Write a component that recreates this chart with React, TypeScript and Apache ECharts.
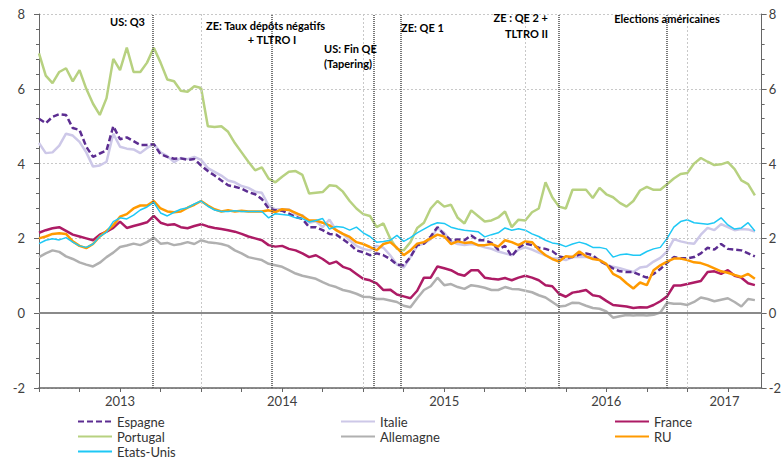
import React, { useEffect, useRef } from "react";
import * as echarts from "echarts";

// Semi-monthly observations, index 0 = Jan 2013 (half-month steps)
const portugal = [
  6.95, 6.35, 6.15, 6.45, 6.55, 6.2, 6.5, 6.0, 5.6, 5.3, 5.75, 6.8, 6.5, 7.1, 6.45, 6.45, 6.7, 7.1, 6.7, 6.25, 6.2, 5.95, 5.92, 6.07, 6.02, 5.0, 4.98,
  5.0, 4.85, 4.55, 4.3, 4.05, 3.82, 3.9, 3.6, 3.5, 3.65, 3.78, 3.8, 3.7, 3.2, 3.22, 3.24, 3.42, 3.4, 3.25, 3.0, 2.8, 2.65, 2.6, 2.3, 2.4, 2.0, 1.72,
  1.68, 1.9, 2.28, 2.42, 2.8, 3.0, 2.85, 2.9, 2.55, 2.4, 2.75, 2.6, 2.45, 2.48, 2.56, 2.72, 2.3, 2.5, 2.48, 2.7, 2.8, 3.5, 3.1, 2.85, 2.8, 3.3,
  3.3, 3.3, 3.08, 3.35, 3.18, 3.1, 2.95, 2.85, 3.0, 3.28, 3.38, 3.3, 3.3, 3.45, 3.6, 3.72, 3.75, 4.0, 4.15, 4.05, 3.96, 3.98, 4.04, 3.85, 3.55, 3.45, 3.15,
];
const espagne = [
  5.2, 5.08, 5.25, 5.32, 5.3, 4.95, 4.9, 4.45, 4.18, 4.27, 4.35, 5.0, 4.65, 4.7, 4.6, 4.5, 4.5, 4.52, 4.25, 4.18, 4.13, 4.14, 4.1, 4.12, 3.95, 3.8, 3.68,
  3.55, 3.42, 3.38, 3.33, 3.24, 3.18, 3.05, 2.8, 2.75, 2.74, 2.66, 2.57, 2.52, 2.3, 2.3, 2.22, 2.12, 2.1, 1.98, 1.85, 1.68, 1.63, 1.55, 1.6, 1.55, 1.45, 1.3,
  1.28, 1.5, 1.82, 1.86, 2.05, 2.3, 2.1, 1.95, 1.97, 1.95, 2.08, 1.95, 1.95, 1.88, 1.7, 1.8, 1.52, 1.75, 1.86, 1.82, 1.75, 1.72, 1.66, 1.52, 1.48, 1.5,
  1.57, 1.6, 1.55, 1.4, 1.3, 1.2, 1.12, 1.1, 1.1, 1.02, 0.95, 1.05, 1.18, 1.35, 1.5, 1.47, 1.47, 1.5, 1.6, 1.75, 1.7, 1.85, 1.72, 1.7, 1.68, 1.6, 1.52,
];
const italie = [
  4.55, 4.28, 4.3, 4.48, 4.8, 4.75, 4.58, 4.3, 3.92, 3.95, 4.05, 4.8, 4.45, 4.4, 4.38, 4.28, 4.42, 4.52, 4.3, 4.2, 4.04, 4.15, 4.12, 4.18, 4.1, 3.88, 3.78,
  3.68, 3.55, 3.5, 3.4, 3.35, 3.25, 3.22, 2.88, 2.78, 2.78, 2.78, 2.64, 2.62, 2.42, 2.46, 2.3, 2.5, 2.22, 2.12, 1.95, 1.8, 1.72, 1.68, 1.8, 1.75, 1.55, 1.3,
  1.22, 1.5, 1.8, 1.86, 1.98, 2.28, 2.15, 1.92, 1.85, 1.82, 1.85, 1.82, 1.76, 1.72, 1.65, 1.6, 1.55, 1.7, 1.76, 1.7, 1.62, 1.55, 1.46, 1.46, 1.42, 1.5,
  1.5, 1.5, 1.48, 1.42, 1.3, 1.24, 1.2, 1.15, 1.1, 1.22, 1.25, 1.38, 1.48, 1.65, 1.98, 1.92, 1.88, 1.86, 2.1, 2.28, 2.22, 2.38, 2.3, 2.22, 2.25, 2.24, 2.18,
];
const france = [
  2.15, 2.22, 2.27, 2.3, 2.2, 2.1, 2.05, 2.0, 1.95, 2.1, 2.18, 2.28, 2.45, 2.28, 2.33, 2.38, 2.43, 2.6, 2.42, 2.36, 2.38, 2.3, 2.27, 2.33, 2.38, 2.32, 2.28,
  2.25, 2.22, 2.18, 2.12, 2.05, 2.0, 1.95, 1.82, 1.78, 1.8, 1.72, 1.68, 1.6, 1.5, 1.55, 1.45, 1.32, 1.38, 1.24, 1.18, 1.05, 0.92, 0.88, 0.8, 0.62, 0.63, 0.5,
  0.45, 0.4, 0.6, 0.95, 0.95, 1.25, 1.2, 1.15, 1.05, 1.0, 1.15, 1.15, 0.95, 0.92, 0.9, 0.94, 0.88, 0.95, 1.0, 0.95, 0.88, 0.75, 0.72, 0.52, 0.44, 0.55,
  0.58, 0.62, 0.48, 0.45, 0.33, 0.22, 0.2, 0.18, 0.14, 0.16, 0.15, 0.22, 0.32, 0.45, 0.74, 0.74, 0.78, 0.82, 0.86, 1.1, 1.12, 1.05, 1.15, 1.0, 0.95, 0.8, 0.75,
];
const allemagne = [
  1.5, 1.6, 1.68, 1.64, 1.52, 1.45, 1.36, 1.3, 1.25, 1.35, 1.5, 1.62, 1.77, 1.81, 1.86, 1.82, 1.9, 2.02, 1.86, 1.88, 1.82, 1.85, 1.9, 1.85, 1.95, 1.9, 1.88,
  1.85, 1.8, 1.68, 1.6, 1.5, 1.46, 1.42, 1.32, 1.28, 1.24, 1.15, 1.06, 1.0, 0.96, 0.92, 0.83, 0.75, 0.7, 0.62, 0.58, 0.52, 0.44, 0.43, 0.38, 0.38, 0.34, 0.3,
  0.2, 0.16, 0.4, 0.62, 0.72, 0.95, 0.75, 0.78, 0.7, 0.65, 0.75, 0.72, 0.68, 0.62, 0.62, 0.7, 0.65, 0.64, 0.6, 0.56, 0.48, 0.42, 0.3, 0.18, 0.2, 0.28,
  0.27, 0.2, 0.14, 0.12, 0.05, -0.12, -0.08, -0.05, -0.06, -0.05, -0.06, -0.04, 0.02, 0.28, 0.25, 0.25, 0.22, 0.3, 0.42, 0.38, 0.32, 0.36, 0.4, 0.3, 0.18, 0.38, 0.35,
];
const ru = [
  2.0, 2.05, 2.12, 2.14, 2.12, 1.92, 1.8, 1.74, 1.85, 2.05, 2.2, 2.35, 2.58, 2.65, 2.8, 2.88, 2.88, 3.0, 2.8, 2.72, 2.7, 2.72, 2.82, 2.9, 3.0, 2.88, 2.78,
  2.72, 2.75, 2.72, 2.74, 2.72, 2.72, 2.72, 2.75, 2.7, 2.78, 2.76, 2.68, 2.6, 2.48, 2.48, 2.42, 2.35, 2.22, 2.12, 2.04, 1.9, 1.85, 1.77, 1.68, 1.85, 1.9, 1.75,
  1.55, 1.68, 1.86, 1.9, 2.0, 2.1, 2.05, 1.85, 1.92, 1.88, 1.9, 1.82, 1.82, 1.85, 1.78, 1.95, 1.9, 1.82, 1.92, 1.9, 1.7, 1.55, 1.45, 1.38, 1.52, 1.5,
  1.65, 1.52, 1.45, 1.42, 1.32, 1.05, 0.96, 0.8, 0.66, 0.82, 0.75, 1.15, 1.28, 1.38, 1.46, 1.46, 1.42, 1.36, 1.34, 1.28, 1.2, 1.12, 1.08, 1.02, 0.97, 1.05, 0.92,
];
const etatsUnis = [
  1.86, 1.95, 1.99, 1.96, 2.02, 1.9, 1.8, 1.76, 1.85, 2.05, 2.17, 2.45, 2.55, 2.52, 2.62, 2.76, 2.84, 2.96, 2.68, 2.6, 2.7, 2.78, 2.82, 2.92, 3.0, 2.86, 2.76,
  2.72, 2.72, 2.74, 2.72, 2.72, 2.72, 2.72, 2.55, 2.66, 2.64, 2.62, 2.55, 2.53, 2.44, 2.48, 2.53, 2.25, 2.32, 2.3, 2.22, 2.3, 2.15, 2.05, 1.9, 1.92, 1.95, 2.08,
  1.92, 2.02, 2.15, 2.25, 2.35, 2.42, 2.4, 2.3, 2.25, 2.22, 2.2, 2.18, 2.04, 2.1, 2.15, 2.28, 2.22, 2.26, 2.22, 2.12, 2.05, 1.95, 1.88, 1.85, 1.78, 1.85,
  1.9, 1.85, 1.76, 1.76, 1.72, 1.5, 1.56, 1.58, 1.55, 1.55, 1.65, 1.72, 1.76, 2.0, 2.3, 2.45, 2.5, 2.42, 2.4, 2.38, 2.42, 2.55, 2.36, 2.25, 2.28, 2.42, 2.2,
];

const yearLabels = ["2013", "2014", "2015", "2016", "2017"];
const yearLabelPos = [12, 36, 60, 84, 101.5];
const yearStarts = [24, 48, 72, 96];
const quarterTicks = [0, 6, 12, 18, 24, 30, 36, 42, 48, 54, 60, 66, 72, 78, 84, 90, 96, 102];
const eventPos = [16.9, 34.4, 49.6, 53.5, 76.9, 92.9];

const FONT = "Lato, 'Open Sans', sans-serif";

const mk = (name: string, vals: number[], color: string, width: number, z: number, dashed = false) => ({
  name,
  type: "line",
  data: vals.map((v, i) => [i, v]),
  symbol: "none",
  showSymbol: false,
  z,
  color,
  lineStyle: { color, width, type: dashed ? [6, 3] : "solid" },
  emphasis: { disabled: true },
});

export default function App() {
  const ref = useRef<HTMLDivElement>(null);
  useEffect(() => {
    const chart = echarts.init(ref.current!, null, { renderer: "svg" });
    const annot = (text: string, x: number, y: number, align: string) => ({
      type: "text",
      x,
      y,
      z: 100,
      style: {
        text,
        fill: "#000",
        font: `bold 11px ${FONT}`,
        align,
        verticalAlign: "middle",
        textAlign: align,
        textVerticalAlign: "middle",
      },
    });
    const legendBase = {
      orient: "vertical",
      top: 414,
      height: 47,
      padding: 0,
      itemWidth: 34,
      itemHeight: 10,
      itemGap: 0,
      itemStyle: { opacity: 0 },
      textStyle: { fontSize: 13, color: "#333", fontFamily: FONT, lineHeight: 15 },
      selectedMode: false,
    };
    const yBase = {
      type: "value",
      min: -2,
      max: 8,
      interval: 2,
      axisLine: { show: true, lineStyle: { color: "#666", width: 1 } },
      axisTick: { show: true, length: 5, lineStyle: { color: "#666" } },
      minorTick: { show: true, splitNumber: 5, length: 3, lineStyle: { color: "#666" } },
      axisLabel: { fontSize: 13, color: "#404040", fontFamily: FONT },
    };
    chart.setOption({
      animation: false,
      grid: { left: 39, right: 22, top: 14, bottom: 73, containLabel: false },
      xAxis: {
        type: "value",
        min: 0,
        max: 107,
        axisLine: { show: true, onZero: false, lineStyle: { color: "#666", width: 1.5 } },
        axisTick: { show: true, customValues: quarterTicks, length: 4, lineStyle: { color: "#666" } },
        axisLabel: {
          customValues: yearLabelPos,
          margin: 6,
          fontSize: 13,
          color: "#404040",
          fontFamily: FONT,
          formatter: (v: number) => {
            const k = yearLabelPos.indexOf(v);
            return k >= 0 ? yearLabels[k] : "";
          },
        },
        splitLine: { show: false },
      },
      yAxis: [
        {
          ...yBase,
          position: "left",
          axisLabel: { ...yBase.axisLabel, margin: 14 },
          splitLine: { show: true, lineStyle: { color: "#c8c8c8", type: [2, 2], width: 1 } },
        },
        {
          ...yBase,
          position: "right",
          axisLabel: { ...yBase.axisLabel, margin: 7 },
          splitLine: { show: false },
        },
      ],
      legend: [
        { ...legendBase, left: 77, data: ["Espagne", "Portugal", "Etats-Unis"] },
        { ...legendBase, left: 340, data: ["Italie", "Allemagne"] },
        { ...legendBase, left: 614, data: ["France", "RU"] },
      ],
      graphic: [
        annot("US: Q3", 110, 21, "left"),
        annot("ZE: Taux dépôts négatifs", 206, 25, "left"),
        annot("+ TLTRO I", 272, 39, "center"),
        annot("US: Fin QE", 324, 48, "left"),
        annot("(Tapering)", 324, 63, "left"),
        annot("ZE: QE 1", 401, 27, "left"),
        annot("ZE : QE 2 +", 548, 17, "right"),
        annot("TLTRO II", 548, 33, "right"),
        annot("Elections américaines", 667, 18, "center"),
      ],
      series: [
        {
          name: "_refs",
          type: "line",
          data: [],
          z: 1,
          silent: true,
          markLine: {
            symbol: "none",
            silent: true,
            label: { show: false },
            emphasis: { disabled: true },
            data: [
              ...yearStarts.map((p) => ({ xAxis: p, lineStyle: { color: "#c8c8c8", type: [2, 2], width: 1 } })),
              ...eventPos.map((p) => ({ xAxis: p, lineStyle: { color: "#555", type: [1, 1], width: 1.6 } })),
              { yAxis: 0, lineStyle: { color: "#8a8a8a", type: "solid", width: 2 } },
            ],
          },
        },
        mk("Portugal", portugal, "#b7d180", 2.5, 2),
        mk("Allemagne", allemagne, "#b0b0b0", 2.5, 2),
        mk("Italie", italie, "#cdc8e8", 2.5, 2),
        mk("Espagne", espagne, "#5c2d91", 2.5, 3, true),
        mk("France", france, "#ad1b65", 2.5, 3),
        mk("RU", ru, "#ff9a00", 2.5, 3),
        mk("Etats-Unis", etatsUnis, "#1ec8f5", 1.5, 4),
      ],
    });
    return () => chart.dispose();
  }, []);
  return <div ref={ref} style={{ position: "absolute", left: 0, top: 0, width: 784, height: 461 }} />;
}
